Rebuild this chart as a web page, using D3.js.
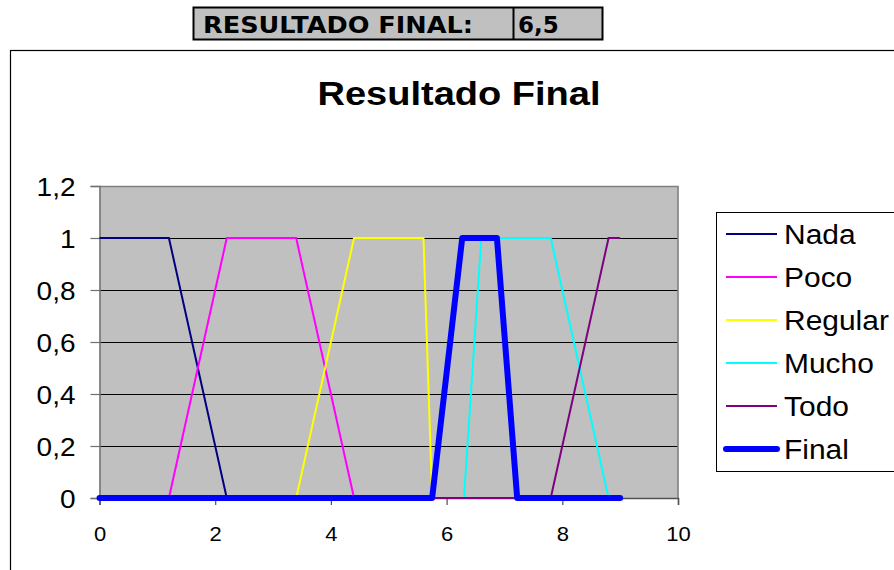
<!DOCTYPE html>
<html>
<head>
<meta charset="utf-8">
<script src="https://cdn.jsdelivr.net/npm/d3@7"></script>
<style>
  html, body { margin: 0; padding: 0; background: #fff; }
  svg { display: block; }
</style>
</head>
<body>
<svg id="chart" width="894" height="570"></svg>
<script>
// ---------- data ----------
const headerLabel = "RESULTADO FINAL:";
const headerValue = "6,5";
const chartTitle = "Resultado Final";
const xTicks = [0, 2, 4, 6, 8, 10];
const yTicks = [0, 0.2, 0.4, 0.6, 0.8, 1, 1.2];
const seriesNames = ["Nada", "Poco", "Regular", "Mucho", "Todo", "Final"];
const nadaX = [0, 1.2, 2.2, 9];
const nadaY = [1, 1, 0, 0];
const pocoX = [0, 1.2, 2.2, 3.4, 4.4, 9];
const pocoY = [0, 0, 1, 1, 0, 0];
const regularX = [0, 3.4, 4.4, 5.6, 5.75, 9];
const regularY = [0, 0, 1, 1, 0, 0];
const muchoX = [0, 6.3, 6.6, 7.8, 8.8, 9];
const muchoY = [0, 0, 1, 1, 0, 0];
const todoX = [0, 7.8, 8.8, 9];
const todoY = [0, 0, 1, 1];
const finalX = [0, 5.75, 6.27, 6.87, 7.22, 9];
const finalY = [0, 0, 1, 1, 0, 0];

const seriesX = [nadaX, pocoX, regularX, muchoX, todoX, finalX];
const seriesY = [nadaY, pocoY, regularY, muchoY, todoY, finalY];
const colors = ["#000080", "#FF00FF", "#FFFF00", "#00FFFF", "#800080", "#0000FF"];
const widths = [2, 2, 2, 2, 2, 6];

// ---------- layout ----------
const svg = d3.select("#chart");
const pL = 99.5, pR = 678, pT = 186, pB = 498;
const x = d3.scaleLinear().domain([0, 10]).range([pL, pR]);
const y = d3.scaleLinear().domain([0, 1.2]).range([pB, pT]);

// header table
const hb = svg.append("g");
hb.append("rect").attr("x", 193.5).attr("y", 7.5).attr("width", 409).attr("height", 32)
  .attr("fill", "#C0C0C0").attr("stroke", "#000").attr("stroke-width", 2);
hb.append("line").attr("x1", 513.5).attr("x2", 513.5).attr("y1", 7.5).attr("y2", 39.5)
  .attr("stroke", "#000").attr("stroke-width", 2);
hb.append("text").attr("x", 203).attr("y", 33).text(headerLabel)
  .attr("font-family", "DejaVu Sans").attr("font-weight", "bold").attr("font-size", 23)
  .attr("textLength", 270).attr("lengthAdjust", "spacingAndGlyphs").attr("fill", "#000");
hb.append("text").attr("x", 518).attr("y", 33).text(headerValue)
  .attr("font-family", "DejaVu Sans").attr("font-weight", "bold").attr("font-size", 23)
  .attr("fill", "#000");

// chart frame
svg.append("rect").attr("x", 10.5).attr("y", 50.5).attr("width", 1000).attr("height", 1000)
  .attr("fill", "#fff").attr("stroke", "#000").attr("stroke-width", 1.2);

// title
svg.append("text").attr("transform", "translate(459,105) scale(1.17,1)")
  .attr("text-anchor", "middle").attr("font-family", "Liberation Sans, Arial")
  .attr("font-weight", "bold").attr("font-size", 32.5).attr("fill", "#000").text(chartTitle);

// plot area
svg.append("rect").attr("x", pL).attr("y", pT).attr("width", pR - pL).attr("height", pB - pT)
  .attr("fill", "#C0C0C0");

// gridlines
svg.append("g").selectAll("line").data(yTicks.filter(d => d > 0 && d < 1.2)).join("line")
  .attr("x1", pL).attr("x2", pR)
  .attr("y1", d => Math.round(y(d)) + 0.5).attr("y2", d => Math.round(y(d)) + 0.5)
  .attr("stroke", "#000").attr("stroke-width", 1);

// top and right border
svg.append("path")
  .attr("d", `M${pL},${pT + 0.5}H${pR}V${pB}`)
  .attr("fill", "none").attr("stroke", "#808080").attr("stroke-width", 1.6);

// axes
const yAxis = d3.axisLeft(y).tickValues(yTicks).tickSize(9).tickPadding(15)
  .tickFormat(d => d3.format(".1~f")(d).replace(".", ","));
const gy = svg.append("g").attr("transform", `translate(${pL},0)`).call(yAxis);
gy.select(".domain").attr("stroke", "#707070").attr("stroke-width", 1.5);
gy.selectAll(".tick line").attr("stroke", "#707070").attr("stroke-width", 1.2);
gy.selectAll(".tick text")
  .attr("font-family", "Liberation Sans, Arial").attr("font-size", 25).attr("fill", "#000")
  .attr("x", null).attr("dy", "0.36em")
  .attr("transform", "translate(-24,0) scale(1.12,1)");

const xAxis = d3.axisBottom(x).tickValues(xTicks).tickSize(7).tickPadding(10)
  .tickFormat(d => String(d));
const gx = svg.append("g").attr("transform", `translate(0,${pB})`).call(xAxis);
gx.select(".domain").attr("stroke", "#505050").attr("stroke-width", 1.5);
gx.selectAll(".tick line").attr("stroke", "#505050").attr("stroke-width", 1.2);
gx.selectAll(".tick text")
  .attr("font-family", "Liberation Sans, Arial").attr("font-size", 20).attr("fill", "#000")
  .attr("y", null).attr("dy", null)
  .attr("transform", "translate(0,43) scale(1.1,1)");

// series
const line = d3.line().x(d => x(d[0])).y(d => y(d[1]));
seriesNames.forEach((name, i) => {
  const pts = seriesX[i].map((v, k) => [v, seriesY[i][k]]);
  svg.append("path").datum(pts).attr("d", line)
    .attr("fill", "none").attr("stroke", colors[i]).attr("stroke-width", widths[i])
    .attr("stroke-linejoin", i === 5 ? "round" : "miter")
    .attr("stroke-linecap", i === 5 ? "round" : "butt");
});

// legend
const lg = svg.append("g");
lg.append("rect").attr("x", 716.5).attr("y", 212.5).attr("width", 400).attr("height", 259)
  .attr("fill", "#fff").attr("stroke", "#000").attr("stroke-width", 1);
const legendY = d3.scalePoint().domain(seriesNames).range([234, 449]);
seriesNames.forEach((name, i) => {
  const cy = legendY(name);
  lg.append("line").attr("x1", 726).attr("x2", 777).attr("y1", cy).attr("y2", cy)
    .attr("stroke", colors[i]).attr("stroke-width", widths[i])
    .attr("stroke-linecap", i === 5 ? "round" : "butt");
  lg.append("text").attr("transform", `translate(784,${cy + 10}) scale(1.07,1)`)
    .attr("font-family", "Liberation Sans, Arial").attr("font-size", 28).attr("fill", "#000")
    .text(name);
});
</script>
</body>
</html>
